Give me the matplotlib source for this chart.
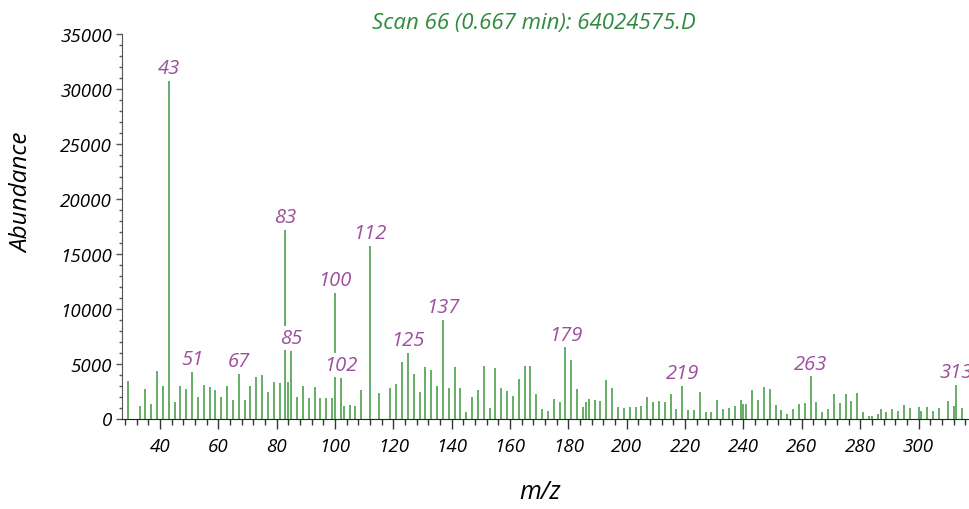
import matplotlib.pyplot as plt
from matplotlib.ticker import MultipleLocator

plt.rcParams['font.family'] = ['Open Sans', 'DejaVu Sans']
plt.rcParams['font.style'] = 'italic'

# m/z values and abundances
mz = [29, 33, 35, 37, 39, 41, 43, 45, 47, 49, 51, 53, 55, 57, 59, 61, 63, 65,
      67, 69, 71, 73, 75, 77, 79, 81, 83, 84, 85, 87, 89, 91, 93, 95, 97, 99,
      100, 102, 103, 105, 107, 109, 112, 115, 119, 121, 123, 125, 127, 129,
      131, 133, 135, 137, 139, 141, 143, 145, 147, 149, 151, 153, 155, 157,
      159, 161, 163, 165, 167, 169, 171, 173, 175, 177, 179, 181, 183, 185,
      186, 187, 189, 191, 193, 195, 197, 199, 201, 203, 205, 207, 209, 211,
      213, 215, 217, 219, 221, 223, 225, 227, 229, 231, 233, 235, 237, 239,
      240, 241, 243, 245, 247, 249, 251, 253, 255, 257, 259, 261, 263, 265,
      267, 269, 271, 273, 275, 277, 279, 281, 283, 284, 286, 287, 289, 291,
      293, 295, 297, 300, 301, 303, 305, 307, 310, 312, 313, 315]
abundance = [3390, 1170, 2690, 1320, 4350, 2930, 30700, 1500, 2990, 2690,
             4260, 1960, 3080, 2840, 2600, 1960, 2990, 1710, 4050, 1690, 2930,
             3780, 3960, 2440, 3350, 3230, 17200, 3350, 6180, 1930, 2990, 1900,
             2840, 1900, 1900, 1900, 11400, 3690, 1170, 1230, 1170, 2600,
             15700, 2300, 2780, 3140, 5120, 5960, 4050, 2390, 4720, 4450, 2930,
             8970, 2780, 4690, 2780, 620, 1960, 2600, 4780, 960, 4600, 2750,
             2500, 2080, 3600, 4780, 4780, 2230, 870, 680, 1750, 1500, 6480,
             5330, 2690, 1020, 1480, 1800, 1690, 1590, 3510, 2780, 1020, 1000,
             1050, 1050, 1110, 1960, 1530, 1590, 1500, 2230, 870, 2990, 800,
             800, 2390, 560, 560, 1690, 870, 930, 1110, 1710, 1320, 1290, 2600,
             1660, 2840, 2690, 1230, 770, 380, 870, 1320, 1410, 3840, 1530,
             620, 870, 2200, 1410, 2200, 1560, 2290, 560, 260, 260, 410, 840,
             560, 840, 680, 1230, 930, 1080, 710, 1020, 710, 930, 1590, 1170,
             3080, 930]
labelled = [43, 51, 67, 83, 85, 100, 102, 112, 125, 137, 179, 219, 263, 313]

fig = plt.figure(figsize=(9.69, 5.10), dpi=100)
ax = fig.add_axes([122 / 969, 90.5 / 510, 1 - 122 / 969, 384.5 / 510])

ax.vlines(mz, 0, abundance, color='#3d993d', lw=1.1)

# peak labels sit on a white box, hiding the lines behind them
for m in labelled:
    ab = abundance[mz.index(m)]
    ax.annotate(str(m), xy=(m, ab), xytext=(0, 2), textcoords='offset points',
                ha='center', va='bottom', color='#9c4f9c', fontsize=14.5,
                bbox=dict(boxstyle='square,pad=0.1', fc='white', ec='none'),
                zorder=3, annotation_clip=False)

ax.set_xlim(27, 317.3)
ax.set_ylim(0, 35000)
ax.xaxis.set_major_locator(MultipleLocator(20))
ax.xaxis.set_minor_locator(MultipleLocator(4))
ax.yaxis.set_major_locator(MultipleLocator(5000))
ax.yaxis.set_minor_locator(MultipleLocator(1000))

ax.spines['top'].set_visible(False)
ax.spines['right'].set_visible(False)
ax.spines['left'].set_color('#555555')
ax.spines['bottom'].set_color('#222222')
ax.tick_params(axis='x', which='major', length=7, width=1, color='#333333',
               labelsize=13.5, pad=6)
ax.tick_params(axis='x', which='minor', length=4, width=1, color='#333333')
ax.tick_params(axis='y', which='major', length=4, width=1, color='#555555',
               labelsize=13.5, pad=3)
ax.tick_params(axis='y', which='minor', length=2, width=1, color='#555555')

fig.text(534 / 969, 1 - 24 / 510, 'Scan 66 (0.667 min): 64024575.D',
         color='#2e8b3e', fontsize=16, ha='center', va='center')
fig.text(540 / 969, 1 - 493 / 510, 'm/z', fontsize=18, ha='center', va='center')
fig.text(22 / 969, 1 - 193 / 510, 'Abundance', fontsize=17.5, rotation=90,
         ha='center', va='center')

plt.savefig('out.png', dpi=100)
